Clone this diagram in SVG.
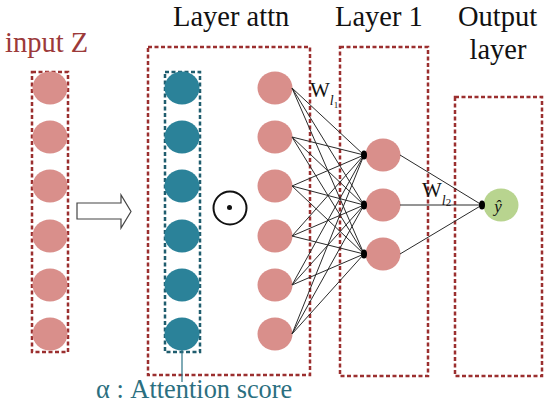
<svg xmlns="http://www.w3.org/2000/svg" width="550" height="408" viewBox="0 0 550 408">
<style>
.box{fill:none;stroke:#9b2f2f;stroke-width:2.5;stroke-dasharray:4 2.5}
.tbox{fill:none;stroke:#1f5d6e;stroke-width:2.5;stroke-dasharray:4 2.5}
.pink{fill:#d98f8b}
.teal{fill:#2b8299}
.green{fill:#b8d48f}
.ttl{font-size:28.5px;fill:#111}
.edge{stroke:#2a2a2a;stroke-width:1;fill:none}
.w{fill:#111}
</style>
<rect width="550" height="408" fill="#fff"/>
<g id="titles" font-family="Liberation Serif, serif">
<text class="ttl" x="5" y="52" style="fill:#9c3a3a">input Z</text>
<text class="ttl" x="173" y="26">Layer attn</text>
<text class="ttl" x="335" y="26">Layer 1</text>
<text class="ttl" x="458" y="26">Output</text>
<text class="ttl" x="498" y="59" text-anchor="middle">layer</text>
</g>

<g id="input">
<rect class="box" x="32" y="72" width="36" height="280"/>
<ellipse class="pink" cx="50" cy="88" rx="17.5" ry="16.5"/>
<ellipse class="pink" cx="50" cy="137" rx="17.5" ry="16.5"/>
<ellipse class="pink" cx="50" cy="186" rx="17.5" ry="16.5"/>
<ellipse class="pink" cx="50" cy="236" rx="17.5" ry="16.5"/>
<ellipse class="pink" cx="50" cy="285" rx="17.5" ry="16.5"/>
<ellipse class="pink" cx="50" cy="334" rx="17.5" ry="16.5"/>
</g>

<g id="arrow">
<polygon points="77,203 121,203 121,195 131,211.5 121,228 121,219 77,219" fill="#fff" stroke="#444" stroke-width="1.2"/>
</g>

<g id="layer-attn">
<rect class="box" x="148" y="47" width="162" height="328"/>
<rect class="tbox" x="165" y="72" width="35" height="280"/>
<ellipse class="teal" cx="182" cy="88" rx="17.5" ry="16.5"/>
<ellipse class="teal" cx="182" cy="137" rx="17.5" ry="16.5"/>
<ellipse class="teal" cx="182" cy="186" rx="17.5" ry="16.5"/>
<ellipse class="teal" cx="182" cy="236" rx="17.5" ry="16.5"/>
<ellipse class="teal" cx="182" cy="285" rx="17.5" ry="16.5"/>
<ellipse class="teal" cx="182" cy="334" rx="17.5" ry="16.5"/>
<circle cx="230" cy="208" r="16.5" fill="none" stroke="#111" stroke-width="2"/>
<circle cx="229.5" cy="207.5" r="2.5" fill="#111"/>
<ellipse class="pink" cx="275" cy="88" rx="17.5" ry="16.5"/>
<ellipse class="pink" cx="275" cy="137" rx="17.5" ry="16.5"/>
<ellipse class="pink" cx="275" cy="186" rx="17.5" ry="16.5"/>
<ellipse class="pink" cx="275" cy="236" rx="17.5" ry="16.5"/>
<ellipse class="pink" cx="275" cy="285" rx="17.5" ry="16.5"/>
<ellipse class="pink" cx="275" cy="334" rx="17.5" ry="16.5"/>
</g>

<g id="layer1">
<rect class="box" x="340" y="47" width="88" height="329"/>
<ellipse class="pink" cx="383" cy="155" rx="17.5" ry="16.5"/>
<ellipse class="pink" cx="383" cy="205" rx="17.5" ry="16.5"/>
<ellipse class="pink" cx="383" cy="254" rx="17.5" ry="16.5"/>
</g>

<g id="output">
<rect class="box" x="455" y="97" width="87" height="279"/>
<ellipse class="green" cx="501" cy="205" rx="17.5" ry="16.5"/>
<text class="w" x="498" y="212" font-family="Liberation Serif, serif" font-size="17" font-style="italic" text-anchor="middle">ŷ</text>
</g>

<g id="connectors">
<g class="edge">
<path d="M292,88 L364,155 M292,88 L364,205 M292,88 L364,254"/>
<path d="M292,137 L364,155 M292,137 L364,205 M292,137 L364,254"/>
<path d="M292,186 L364,155 M292,186 L364,205 M292,186 L364,254"/>
<path d="M292,236 L364,155 M292,236 L364,205 M292,236 L364,254"/>
<path d="M292,285 L364,155 M292,285 L364,205 M292,285 L364,254"/>
<path d="M292,334 L364,155 M292,334 L364,205 M292,334 L364,254"/>
<path d="M400,155 L482,205 M400,205 L482,205 M400,254 L482,205"/>
</g>
<ellipse cx="364" cy="155" rx="3" ry="4.5" fill="#000"/>
<ellipse cx="364" cy="205" rx="3" ry="4.5" fill="#000"/>
<ellipse cx="364" cy="254" rx="3" ry="4.5" fill="#000"/>
<ellipse cx="482" cy="205" rx="3" ry="4.5" fill="#000"/>
<line x1="182" y1="350" x2="182" y2="382" stroke="#2b7285" stroke-width="1.2"/>
</g>

<text class="w" x="310" y="97" font-family="Liberation Serif, serif" font-size="21">W<tspan font-size="14" font-style="italic" dy="8">l</tspan><tspan font-size="9" dy="3">1</tspan></text>
<text class="w" x="422" y="197" font-family="Liberation Serif, serif" font-size="21">W<tspan font-size="14" font-style="italic" dy="8">l</tspan><tspan font-size="11" dy="1">2</tspan></text>

<text x="96" y="398" font-family="Liberation Serif, serif" font-size="26.4" fill="#2b6f80">α : Attention score</text>
</svg>
